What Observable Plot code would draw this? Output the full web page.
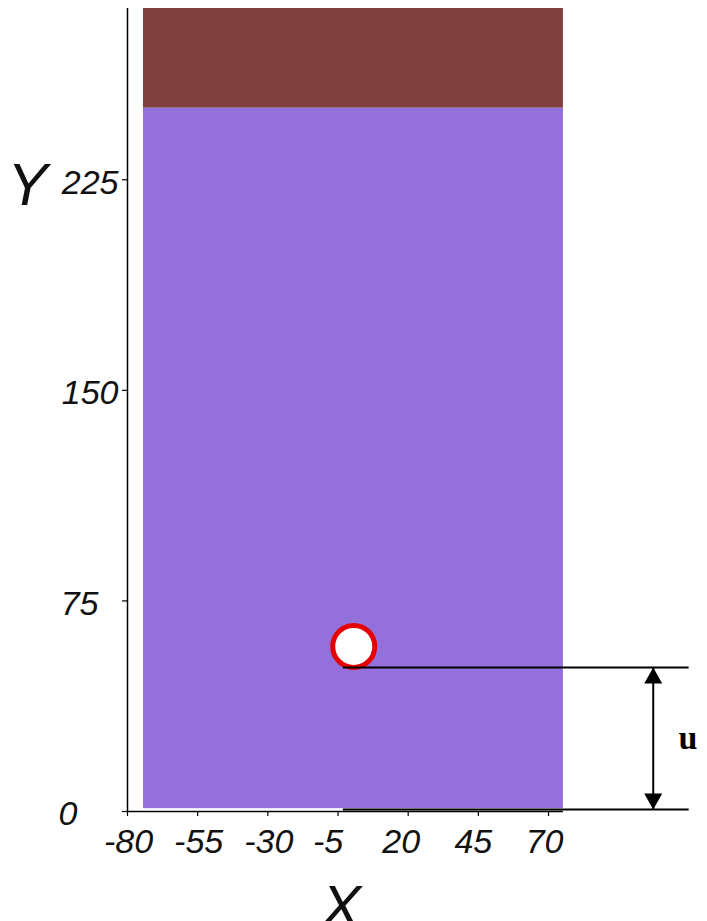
<!DOCTYPE html>
<html>
<head>
<meta charset="utf-8">
<script src="https://cdn.jsdelivr.net/npm/d3@7"></script>
<script src="https://cdn.jsdelivr.net/npm/@observablehq/plot@0.6"></script>
<style>
  html, body { margin: 0; padding: 0; background: white; overflow: hidden; }
  #chart svg { display: block; }
</style>
</head>
<body>
<div id="chart"></div>
<script>
// ---- data ----
const xTicks = [-80, -55, -30, -5, 20, 45, 70];
const yTicks = [0, 75, 150, 225];

const regionNames = ["fluid", "top layer"];
const regionX1 = [-74.3, -74.3];
const regionX2 = [75.3, 75.3];
const regionY1 = [1, 250.5];
const regionY2 = [250.5, 286];
const regionColors = ["#9370db", "#7f4040"];

const obstacleX = [0.6];
const obstacleY = [58.8];

// gap annotation "u": from the bottom of the obstacle down to the floor
const gapLineY = [0.7, 51.3];
const gapLineX1 = -3.1;
const gapLineX2 = 120.1;
const gapArrowX = [107.3];
const gapLabel = ["u"];
const gapLabelX = [116.3];
const gapLabelY = [26];

// ---- build tables ----
const regions = regionNames.map((name, i) => ({
  name, x1: regionX1[i], x2: regionX2[i], y1: regionY1[i], y2: regionY2[i], color: regionColors[i]
}));
const obstacle = obstacleX.map((x, i) => ({x, y: obstacleY[i]}));
const arrow = gapArrowX.map(x => ({x, y1: gapLineY[0], y2: gapLineY[1]}));
const label = gapLabel.map((t, i) => ({t, x: gapLabelX[i], y: gapLabelY[i]}));

// ---- styles ----
const tickFont = {fontSize: 34, fontStyle: "italic", fontFamily: "Liberation Sans, Arial, sans-serif", fill: "#111"};
const xLabelNudge = {"-80": 1, "-55": 1, "-30": 1, "-5": -10, "20": -7, "45": -5, "70": -4};
const yLabelNudge = {"0": -50, "75": -29, "150": -9, "225": -9};

const triUp = {draw(ctx) { ctx.moveTo(0, 0); ctx.lineTo(9, 16); ctx.lineTo(-9, 16); ctx.closePath(); }};
const triDown = {draw(ctx) { ctx.moveTo(0, 0); ctx.lineTo(9, -16); ctx.lineTo(-9, -16); ctx.closePath(); }};

const chart = Plot.plot({
  width: 707,
  height: 921,
  marginLeft: 127,
  marginRight: 13,
  marginTop: 8,
  marginBottom: 110,
  x: {domain: [-80, 122]},
  y: {domain: [0, 286]},
  style: {background: "white", overflow: "visible"},
  marks: [
    Plot.rect(regions, {x1: "x1", x2: "x2", y1: "y1", y2: "y2", fill: "color"}),
    // axes lines
    Plot.ruleX([xTicks[0]], {stroke: "black", strokeWidth: 1.5}),
    Plot.ruleY([yTicks[0]], {x1: xTicks[0], x2: regionX2[0], stroke: "black", strokeWidth: 1.5}),
    Plot.axisX(xTicks, {tickSize: 5, tickFormat: () => "", label: null, strokeWidth: 1.2}),
    Plot.axisY(yTicks, {anchor: "left", tickSize: 5, tickFormat: () => "", label: null, strokeWidth: 1.2}),
    // tick labels
    ...xTicks.map(t => Plot.text([t], {
      x: d => d, frameAnchor: "bottom", lineAnchor: "top", dy: 17, dx: xLabelNudge[String(t)],
      text: d => String(d), ...tickFont
    })),
    ...yTicks.map(t => Plot.text([t], {
      y: d => d, frameAnchor: "left", textAnchor: "end", dy: 3, dx: yLabelNudge[String(t)],
      text: d => String(d), ...tickFont
    })),
    // axis titles
    Plot.text(["Y"], {frameAnchor: "top-left", textAnchor: "start", lineAnchor: "top", dx: -120, dy: 154,
      text: d => d, fontSize: 60, fontStyle: "italic", fontFamily: "Liberation Sans, Arial, sans-serif", fill: "#111"}),
    Plot.text(["X"], {frameAnchor: "bottom", textAnchor: "middle", lineAnchor: "top", dx: -70, dy: 73,
      text: d => d, fontSize: 60, fontStyle: "italic", fontFamily: "Liberation Sans, Arial, sans-serif", fill: "#111"}),
    // obstacle
    Plot.dot(obstacle, {x: "x", y: "y", r: 21, fill: "white", stroke: "#e60000", strokeWidth: 5}),
    // gap annotation
    Plot.ruleY(gapLineY, {x1: gapLineX1, x2: gapLineX2, stroke: "black", strokeWidth: 2}),
    Plot.ruleX(arrow, {x: "x", y1: "y1", y2: "y2", stroke: "black", strokeWidth: 2}),
    Plot.dot(arrow, {x: "x", y: "y2", symbol: triUp, r: 1, fill: "black", stroke: "none"}),
    Plot.dot(arrow, {x: "x", y: "y1", symbol: triDown, r: 1, fill: "black", stroke: "none"}),
    Plot.text(label, {x: "x", y: "y", text: "t", textAnchor: "start", lineAnchor: "middle",
      fontSize: 34, fontWeight: "bold", fontFamily: "Liberation Serif, Times New Roman, serif", fill: "black"})
  ]
});
document.getElementById("chart").appendChild(chart);
</script>
</body>
</html>
